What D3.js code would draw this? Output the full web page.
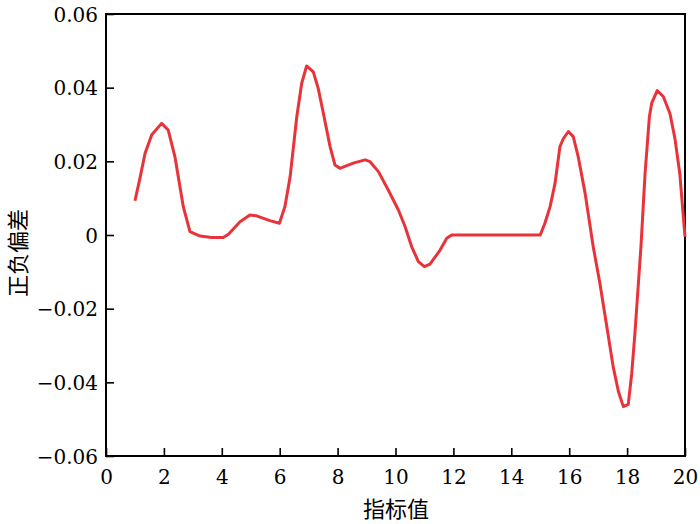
<!DOCTYPE html>
<html><head><meta charset="utf-8">
<script src="https://cdn.jsdelivr.net/npm/d3@7/dist/d3.min.js"></script>
<style>body{margin:0;background:#fff}</style>
</head><body>
<svg id="c" width="700" height="524"></svg>
<script>
const xs = [1.0,1.17,1.35,1.58,1.92,2.15,2.38,2.67,2.90,3.25,3.65,4.05,4.23,4.63,4.97,5.2,5.66,5.99,6.18,6.36,6.59,6.76,6.93,7.16,7.33,7.51,7.74,7.91,8.08,8.54,8.95,9.12,9.41,9.75,10.10,10.33,10.56,10.79,11.0,11.19,11.54,11.77,11.94,15.0,15.16,15.34,15.51,15.68,15.80,15.97,16.14,16.31,16.55,16.83,17.06,17.30,17.52,17.70,17.87,18.04,18.16,18.27,18.39,18.48,18.62,18.77,18.85,19.04,19.25,19.48,19.65,19.82,20.0];
const ys = [0.0093,0.0153,0.0222,0.0272,0.0303,0.0285,0.0213,0.0077,0.0009,-0.0003,-0.0007,-0.0007,0.0002,0.0036,0.0054,0.0052,0.0039,0.0032,0.0077,0.0158,0.0321,0.0412,0.0459,0.0443,0.0398,0.0330,0.0240,0.0190,0.0181,0.0195,0.0204,0.0199,0.0172,0.0122,0.0068,0.0023,-0.0032,-0.0072,-0.0086,-0.0079,-0.0041,-0.0009,0.0,0.0,0.0032,0.0077,0.0140,0.0240,0.0262,0.0281,0.0267,0.0213,0.0113,-0.0032,-0.0131,-0.0249,-0.0358,-0.0425,-0.0466,-0.0460,-0.0376,-0.0267,-0.0131,-0.0030,0.0167,0.0321,0.0358,0.0392,0.0376,0.0330,0.0263,0.0167,-0.0005];
const xTicks = [0,2,4,6,8,10,12,14,16,18,20];
const yTicks = [-0.06,-0.04,-0.02,0,0.02,0.04,0.06];
const yTickLabels = ["\u22120.06","\u22120.04","\u22120.02","0","0.02","0.04","0.06"];
const xTitle = "指标值";
const yTitle = "正负偏差";

const L=106,R=685,T=14,B=456;
const svg=d3.select("#c");
const x=d3.scaleLinear().domain([0,20]).range([L,R]);
const y=d3.scaleLinear().domain([-0.06,0.06]).range([B,T]);
const serif="'DejaVu Serif','Liberation Serif',serif";

const gx=svg.append("g").attr("transform",`translate(0,${B})`)
  .call(d3.axisBottom(x).tickValues(xTicks).tickSizeInner(-8).tickSizeOuter(0).tickPadding(14).tickFormat(d3.format("d")));
const gy=svg.append("g").attr("transform",`translate(${L},0)`)
  .call(d3.axisLeft(y).tickValues(yTicks).tickSizeInner(-8).tickSizeOuter(0).tickPadding(8).tickFormat((d,i)=>yTickLabels[i]));
[gx,gy].forEach(g=>{
  g.attr("font-family",null).attr("font-size",null);
  g.select(".domain").remove();
  g.selectAll(".tick line").attr("stroke","#000").attr("stroke-width",1.6);
  g.selectAll(".tick text").style("font-family",serif).style("font-size","20px").attr("fill","#000");
});
gy.selectAll(".tick text").attr("dy","0.36em");
svg.append("rect").attr("x",L).attr("y",T).attr("width",R-L).attr("height",B-T)
  .attr("fill","none").attr("stroke","#000").attr("stroke-width",2);

const line=d3.line().x((d,i)=>x(xs[i])).y((d,i)=>y(ys[i]));
svg.append("path").datum(ys).attr("d",line).attr("fill","none")
  .attr("stroke","#e8333a").attr("stroke-width",3).attr("stroke-linejoin","round");

svg.append("text").attr("x",396).attr("y",517).attr("text-anchor","middle")
  .style("font-family","'Noto Sans CJK SC',sans-serif").style("font-size","22px").text(xTitle);
svg.append("text").attr("transform","translate(26,253) rotate(-90)").attr("text-anchor","middle")
  .style("font-family","'Noto Sans CJK SC',sans-serif").style("font-size","22px").text(yTitle);
</script>
</body></html>
